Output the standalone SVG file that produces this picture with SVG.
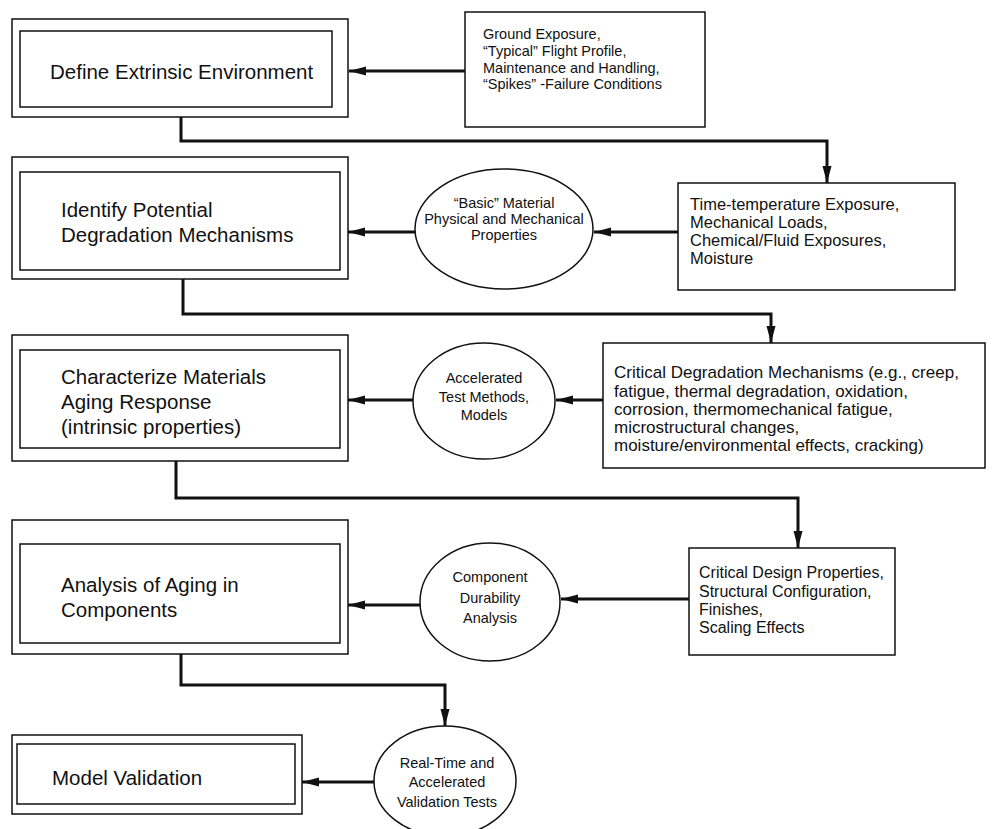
<svg xmlns="http://www.w3.org/2000/svg" width="994" height="829" viewBox="0 0 994 829">
<style>
.ob{fill:none;stroke:#111;stroke-width:1.5}
.ib{fill:#fff;stroke:#111;stroke-width:1.5}
.sb{fill:#fff;stroke:#111;stroke-width:1.5}
.el{fill:#fff;stroke:#111;stroke-width:1.5}
.big{font-family:"Liberation Sans",Arial,sans-serif;font-size:20.5px;fill:#111}
.sm{font-family:"Liberation Sans",Arial,sans-serif;font-size:14.5px;fill:#111}
.md{font-family:"Liberation Sans",Arial,sans-serif;font-size:16px;fill:#111}
.tt{font-family:"Liberation Sans",Arial,sans-serif;font-size:16.5px;fill:#111}
.lg{font-family:"Liberation Sans",Arial,sans-serif;font-size:17px;fill:#111}
.ec{font-family:"Liberation Sans",Arial,sans-serif;font-size:14.5px;fill:#111;text-anchor:middle}
.cn{fill:none;stroke:#111;stroke-width:3}
</style>
<defs>
<marker id="ah" markerUnits="userSpaceOnUse" markerWidth="18" markerHeight="10" refX="17" refY="5" orient="auto">
<path d="M0,0.5 L17,5 L0,9.5 z" fill="#111"/>
</marker>
</defs>
<rect width="994" height="829" fill="#fff"/>

<g id="define">
<rect class="ob" x="12" y="19" width="336" height="98"/>
<rect class="ib" x="20" y="31" width="312" height="76"/>
<text class="big" x="50" y="79">Define Extrinsic Environment</text>
</g>
<g id="ground">
<rect class="sb" x="465" y="12" width="240" height="115"/>
<text class="sm" x="483" y="39">Ground Exposure,</text>
<text class="sm" x="483" y="56">“Typical” Flight Profile,</text>
<text class="sm" x="483" y="73">Maintenance and Handling,</text>
<text class="sm" x="483" y="89">“Spikes” -Failure Conditions</text>
</g>

<g id="identify">
<rect class="ob" x="12" y="157" width="336" height="122"/>
<rect class="ib" x="20" y="172" width="320" height="98"/>
<text class="big" x="61" y="217">Identify Potential</text>
<text class="big" x="61" y="242">Degradation Mechanisms</text>
</g>
<g id="basic">
<ellipse class="el" cx="504" cy="229" rx="89" ry="60"/>
<text class="ec" x="504" y="208">“Basic” Material</text>
<text class="ec" x="504" y="224">Physical and Mechanical</text>
<text class="ec" x="504" y="240">Properties</text>
</g>
<g id="timetemp">
<rect class="sb" x="678" y="183" width="277" height="107"/>
<text class="tt" x="690" y="210">Time-temperature Exposure,</text>
<text class="tt" x="690" y="228">Mechanical Loads,</text>
<text class="tt" x="690" y="246">Chemical/Fluid Exposures,</text>
<text class="tt" x="690" y="264">Moisture</text>
</g>

<g id="characterize">
<rect class="ob" x="12" y="335" width="336" height="126"/>
<rect class="ib" x="20" y="350" width="320" height="98"/>
<text class="big" x="61" y="384">Characterize Materials</text>
<text class="big" x="61" y="409">Aging Response</text>
<text class="big" x="61" y="434">(intrinsic properties)</text>
</g>
<g id="accelerated">
<ellipse class="el" cx="484" cy="401" rx="71" ry="58"/>
<text class="ec" x="484" y="383">Accelerated</text>
<text class="ec" x="484" y="402">Test Methods,</text>
<text class="ec" x="484" y="420">Models</text>
</g>
<g id="critdeg">
<rect class="sb" x="603" y="343" width="382" height="125"/>
<text class="lg" x="614" y="378">Critical Degradation Mechanisms (e.g., creep,</text>
<text class="lg" x="614" y="397">fatigue, thermal degradation, oxidation,</text>
<text class="lg" x="614" y="415">corrosion, thermomechanical fatigue,</text>
<text class="lg" x="614" y="433">microstructural changes,</text>
<text class="lg" x="614" y="451">moisture/environmental effects, cracking)</text>
</g>

<g id="analysis">
<rect class="ob" x="12" y="520" width="336" height="134"/>
<rect class="ib" x="20" y="544" width="320" height="99"/>
<text class="big" x="61" y="592">Analysis of Aging in</text>
<text class="big" x="61" y="617">Components</text>
</g>
<g id="component">
<ellipse class="el" cx="490" cy="602" rx="70" ry="59"/>
<text class="ec" x="490" y="582">Component</text>
<text class="ec" x="490" y="603">Durability</text>
<text class="ec" x="490" y="623">Analysis</text>
</g>
<g id="critdesign">
<rect class="sb" x="689" y="548" width="206" height="107"/>
<text class="md" x="699" y="578">Critical Design Properties,</text>
<text class="md" x="699" y="597">Structural Configuration,</text>
<text class="md" x="699" y="615">Finishes,</text>
<text class="md" x="699" y="633">Scaling Effects</text>
</g>

<g id="validation">
<rect class="ob" x="12" y="735" width="290" height="79"/>
<rect class="ib" x="17" y="744" width="278" height="60"/>
<text class="big" x="52" y="785">Model Validation</text>
</g>
<g id="realtime">
<ellipse class="el" cx="445" cy="781" rx="71" ry="55"/>
<text class="ec" x="447" y="768">Real-Time and</text>
<text class="ec" x="447" y="787">Accelerated</text>
<text class="ec" x="447" y="807">Validation Tests</text>
</g>

<g id="connectors">
<line class="cn" x1="465" y1="71" x2="349" y2="71" marker-end="url(#ah)"/>
<polyline class="cn" points="181,117 181,141 827,141 827,183" marker-end="url(#ah)"/>
<line class="cn" x1="678" y1="232" x2="594" y2="232" marker-end="url(#ah)"/>
<line class="cn" x1="415" y1="232" x2="348" y2="232" marker-end="url(#ah)"/>
<polyline class="cn" points="183,279 183,314 771,314 771,343" marker-end="url(#ah)"/>
<line class="cn" x1="603" y1="400" x2="556" y2="400" marker-end="url(#ah)"/>
<line class="cn" x1="413" y1="400" x2="348" y2="400" marker-end="url(#ah)"/>
<polyline class="cn" points="176,461 176,498 798,498 798,548" marker-end="url(#ah)"/>
<line class="cn" x1="689" y1="599" x2="561" y2="599" marker-end="url(#ah)"/>
<line class="cn" x1="420" y1="605" x2="348" y2="605" marker-end="url(#ah)"/>
<polyline class="cn" points="181,654 181,685 445,685 445,726" marker-end="url(#ah)"/>
<line class="cn" x1="374" y1="782" x2="302" y2="782" marker-end="url(#ah)"/>
</g>
</svg>
